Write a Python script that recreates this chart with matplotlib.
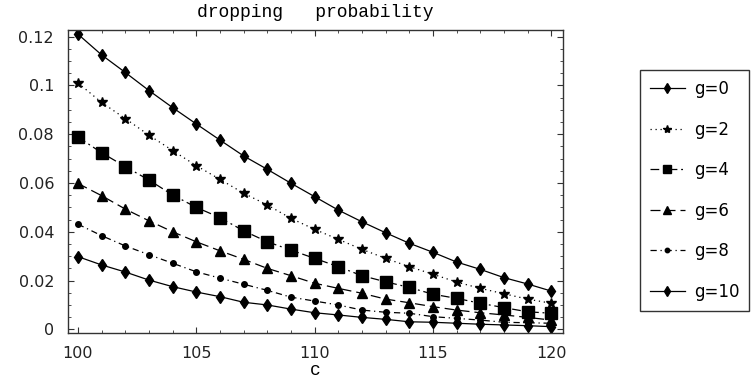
import numpy as np
import matplotlib
matplotlib.use('Agg')
import matplotlib.pyplot as plt
from matplotlib.ticker import MultipleLocator, FuncFormatter

# capacity c
c = list(range(100, 121))

# dropping probability for each g
g0 = [0.1210, 0.1125, 0.1053, 0.0979, 0.0909, 0.0842, 0.0776, 0.0711, 0.0656, 0.0599,
      0.0544, 0.0489, 0.0441, 0.0396, 0.0353, 0.0316, 0.0276, 0.0246, 0.0212, 0.0186, 0.0157]
g2 = [0.1010, 0.0930, 0.0864, 0.0796, 0.0733, 0.0671, 0.0615, 0.0558, 0.0510, 0.0455,
      0.0410, 0.0369, 0.0328, 0.0291, 0.0257, 0.0226, 0.0194, 0.0168, 0.0146, 0.0124, 0.0107]
g4 = [0.0788, 0.0724, 0.0667, 0.0612, 0.0551, 0.0500, 0.0458, 0.0404, 0.0359, 0.0325,
      0.0291, 0.0257, 0.0220, 0.0195, 0.0172, 0.0144, 0.0127, 0.0107, 0.0089, 0.0072, 0.0066]
g6 = [0.0598, 0.0548, 0.0493, 0.0445, 0.0400, 0.0359, 0.0322, 0.0287, 0.0250, 0.0220,
      0.0189, 0.0168, 0.0148, 0.0124, 0.0109, 0.0093, 0.0079, 0.0068, 0.0059, 0.0049, 0.0038]
g8 = [0.0431, 0.0384, 0.0342, 0.0306, 0.0271, 0.0236, 0.0210, 0.0185, 0.0160, 0.0132,
      0.0116, 0.0100, 0.0079, 0.0070, 0.0066, 0.0052, 0.0045, 0.0038, 0.0029, 0.0027, 0.0025]
g10 = [0.0298, 0.0264, 0.0235, 0.0202, 0.0175, 0.0153, 0.0134, 0.0111, 0.0100, 0.0083,
       0.0068, 0.0059, 0.0049, 0.0041, 0.0031, 0.0029, 0.0025, 0.0021, 0.0018, 0.0015, 0.0011]

labels = ['g=0', 'g=2', 'g=4', 'g=6', 'g=8', 'g=10']
series = [g0, g2, g4, g6, g8, g10]

# style per series: marker, size, dash pattern
styles = [
    ('d', 6.5, None),
    ('*', 7.5, (1, 3)),
    ('s', 8, (7, 3, 1.5, 3)),
    ('^', 6.5, (8, 4)),
    ('o', 4, (5, 3, 1, 3)),
    ('d', 6.5, None),
]

fig = plt.figure(figsize=(7.52, 3.85), dpi=100)
ax = fig.add_axes([68/752, 1-333/385, (563-68)/752, (333-30)/385])

for vals, lab, (mk, ms, dash) in zip(series, labels, styles):
    line, = ax.plot(c, vals, color='black', lw=0.9, marker=mk, ms=ms, label=lab)
    if dash is not None:
        line.set_dashes(dash)

ax.set_xlim(99.58, 120.5)
ax.set_ylim(-0.0015, 0.1227)
ax.xaxis.set_major_locator(MultipleLocator(5))
ax.xaxis.set_minor_locator(MultipleLocator(1))
ax.yaxis.set_major_locator(MultipleLocator(0.02))
ax.yaxis.set_minor_locator(MultipleLocator(0.005))
ax.yaxis.set_major_formatter(FuncFormatter(lambda v, p: '%g' % round(v, 3)))

ax.tick_params(which='both', direction='in', top=True, right=True, labelsize=11.5,
               color='#333333', labelcolor='#222222')
ax.tick_params(which='major', length=4.5, width=0.8)
ax.tick_params(which='minor', length=2.5, width=0.6)
ax.tick_params(axis='x', pad=9)
ax.tick_params(axis='y', pad=10)
for sp in ax.spines.values():
    sp.set_color('#333333')
    sp.set_linewidth(1.0)

ax.set_title('dropping   probability', family='Liberation Mono', fontsize=13, pad=9)
ax.set_xlabel('c', family='Liberation Mono', fontsize=13, labelpad=1)

leg = fig.legend(loc='center', bbox_to_anchor=(694.5/752, 1-190.5/385), fontsize=12,
                 frameon=True, fancybox=False, borderpad=0.6, labelspacing=1.35,
                 handleheight=0.7, handlelength=2.1, handletextpad=0.55,
                 numpoints=1, markerscale=0.8, borderaxespad=0)
leg.get_frame().set_edgecolor('black')
leg.get_frame().set_linewidth(1.0)

fig.savefig('out.png', dpi=100)
